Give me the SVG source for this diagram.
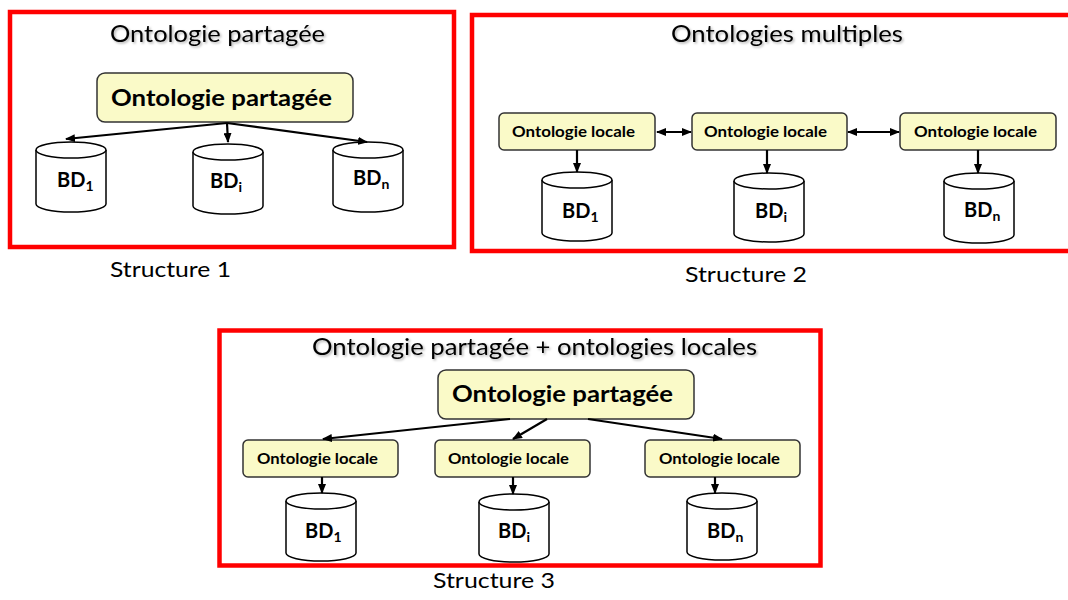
<svg xmlns="http://www.w3.org/2000/svg" width="1068" height="600" viewBox="0 0 1068 600">
<defs>
<marker id="ah" markerWidth="10" markerHeight="8" refX="9" refY="4" orient="auto-start-reverse" markerUnits="userSpaceOnUse"><path d="M0,0 L10,4 L0,8 z" fill="#000"/></marker>
<filter id="sh" x="-5%" y="-30%" width="110%" height="160%"><feDropShadow dx="1.5" dy="1.5" stdDeviation="1" flood-color="#000" flood-opacity="0.3"/></filter>
</defs>
<style>
text{font-family:Lato,"Liberation Sans",sans-serif;fill:#000}
.frame{fill:none;stroke:#ff0000;stroke-width:4.5}
.title{font-size:23px;filter:url(#sh)}
.label{font-size:21px}
.shared{fill:#fafac8;stroke:#333;stroke-width:1.5}
.big{font-size:23px;font-weight:bold}
.loc{font-size:15px;font-weight:bold}
.cyl{fill:#fff;stroke:#000;stroke-width:1.5}
.bd{font-size:20px;font-weight:bold}
.sub{font-size:14px}
.con{stroke:#000;stroke-width:2.2;fill:none}
</style>
<rect x="0" y="0" width="1068" height="600" fill="#fff"/>

<g id="structure1">
<rect class="frame" x="10" y="12" width="444" height="235"/>
<text class="title" x="110" y="42" textLength="215" lengthAdjust="spacingAndGlyphs">Ontologie partagée</text>
<text class="label" x="110" y="277" textLength="121" lengthAdjust="spacingAndGlyphs">Structure 1</text>
</g>
<g id="s1-shared">
<rect class="shared" x="97" y="73" width="256" height="49" rx="8"/>
<text class="big" x="111" y="106" textLength="221" lengthAdjust="spacingAndGlyphs">Ontologie partagée</text>
</g>
<g id="s1-bd1">
<path class="cyl" d="M36,150 V204 A35,8 0 0 0 106,204 V150"/><ellipse class="cyl" cx="71" cy="150" rx="35" ry="8"/>
<text class="bd" x="57" y="187">BD<tspan class="sub" dy="4">1</tspan></text>
</g>
<g id="s1-bdi">
<path class="cyl" d="M193,152 V206 A35,8 0 0 0 263,206 V152"/><ellipse class="cyl" cx="228" cy="152" rx="35" ry="8"/>
<text class="bd" x="210" y="188">BD<tspan class="sub" dy="4">i</tspan></text>
</g>
<g id="s1-bdn">
<path class="cyl" d="M333,150 V204 A35,8 0 0 0 403,204 V150"/><ellipse class="cyl" cx="368" cy="150" rx="35" ry="8"/>
<text class="bd" x="353" y="185">BD<tspan class="sub" dy="4">n</tspan></text>
</g>

<g id="structure2">
<rect class="frame" x="472" y="15" width="620" height="236"/>
<text class="title" x="671" y="42" textLength="232" lengthAdjust="spacingAndGlyphs">Ontologies multiples</text>
<text class="label" x="685" y="282" textLength="122" lengthAdjust="spacingAndGlyphs">Structure 2</text>
</g>
<g id="s2-loc1">
<rect class="shared" x="499" y="113" width="156" height="37" rx="5"/>
<text class="loc" x="512" y="137" textLength="123" lengthAdjust="spacingAndGlyphs">Ontologie locale</text>
</g>
<g id="s2-loc2">
<rect class="shared" x="692" y="113" width="155" height="37" rx="5"/>
<text class="loc" x="704" y="137" textLength="123" lengthAdjust="spacingAndGlyphs">Ontologie locale</text>
</g>
<g id="s2-loc3">
<rect class="shared" x="900" y="113" width="156" height="37" rx="5"/>
<text class="loc" x="914" y="137" textLength="123" lengthAdjust="spacingAndGlyphs">Ontologie locale</text>
</g>
<g id="s2-bd1">
<path class="cyl" d="M542,180 V233 A35,8 0 0 0 612,233 V180"/><ellipse class="cyl" cx="577" cy="180" rx="35" ry="8"/>
<text class="bd" x="562" y="218">BD<tspan class="sub" dy="4">1</tspan></text>
</g>
<g id="s2-bdi">
<path class="cyl" d="M734,181 V234 A35,8 0 0 0 804,234 V181"/><ellipse class="cyl" cx="769" cy="181" rx="35" ry="8"/>
<text class="bd" x="755" y="218">BD<tspan class="sub" dy="4">i</tspan></text>
</g>
<g id="s2-bdn">
<path class="cyl" d="M944,181 V235 A35,8 0 0 0 1014,235 V181"/><ellipse class="cyl" cx="979" cy="181" rx="35" ry="8"/>
<text class="bd" x="964" y="217">BD<tspan class="sub" dy="4">n</tspan></text>
</g>

<g id="structure3">
<rect class="frame" x="219.5" y="330.5" width="601" height="235"/>
<text class="title" x="312" y="355" textLength="445" lengthAdjust="spacingAndGlyphs">Ontologie partagée + ontologies locales</text>
<text class="label" x="433" y="588" textLength="122" lengthAdjust="spacingAndGlyphs">Structure 3</text>
</g>
<g id="s3-shared">
<rect class="shared" x="438" y="370" width="256" height="49" rx="8"/>
<text class="big" x="452" y="402" textLength="221" lengthAdjust="spacingAndGlyphs">Ontologie partagée</text>
</g>
<g id="s3-loc1">
<rect class="shared" x="243" y="440" width="155" height="37" rx="5"/>
<text class="loc" x="257" y="464" textLength="121" lengthAdjust="spacingAndGlyphs">Ontologie locale</text>
</g>
<g id="s3-loc2">
<rect class="shared" x="435" y="440" width="155" height="37" rx="5"/>
<text class="loc" x="448" y="464" textLength="121" lengthAdjust="spacingAndGlyphs">Ontologie locale</text>
</g>
<g id="s3-loc3">
<rect class="shared" x="645" y="440" width="155" height="37" rx="5"/>
<text class="loc" x="659" y="464" textLength="121" lengthAdjust="spacingAndGlyphs">Ontologie locale</text>
</g>
<g id="s3-bd1">
<path class="cyl" d="M286,501 V553 A35,8 0 0 0 356,553 V501"/><ellipse class="cyl" cx="321" cy="501" rx="35" ry="8"/>
<text class="bd" x="305" y="538">BD<tspan class="sub" dy="4">1</tspan></text>
</g>
<g id="s3-bdi">
<path class="cyl" d="M479,502 V554 A35,8 0 0 0 549,554 V502"/><ellipse class="cyl" cx="514" cy="502" rx="35" ry="8"/>
<text class="bd" x="498" y="538">BD<tspan class="sub" dy="4">i</tspan></text>
</g>
<g id="s3-bdn">
<path class="cyl" d="M687,501 V552 A35,8 0 0 0 757,552 V501"/><ellipse class="cyl" cx="722" cy="501" rx="35" ry="8"/>
<text class="bd" x="707" y="538">BD<tspan class="sub" dy="4">n</tspan></text>
</g>

<g id="connectors">
<line class="con" x1="227" y1="123" x2="66" y2="139" marker-end="url(#ah)"/>
<line class="con" x1="227" y1="123" x2="228" y2="142" marker-end="url(#ah)"/>
<line class="con" x1="227" y1="123" x2="367" y2="142" marker-end="url(#ah)"/>

<line class="con" x1="657" y1="132" x2="691" y2="132" marker-start="url(#ah)" marker-end="url(#ah)"/>
<line class="con" x1="848" y1="132" x2="899" y2="132" marker-start="url(#ah)" marker-end="url(#ah)"/>
<line class="con" x1="577" y1="150" x2="577" y2="172" marker-end="url(#ah)"/>
<line class="con" x1="767" y1="150" x2="767" y2="173" marker-end="url(#ah)"/>
<line class="con" x1="978" y1="150" x2="978" y2="173" marker-end="url(#ah)"/>

<line class="con" x1="510" y1="419" x2="323" y2="439" marker-end="url(#ah)"/>
<line class="con" x1="547" y1="419" x2="513" y2="439" marker-end="url(#ah)"/>
<line class="con" x1="588" y1="419" x2="722" y2="439" marker-end="url(#ah)"/>
<line class="con" x1="322" y1="477" x2="322" y2="493" marker-end="url(#ah)"/>
<line class="con" x1="513" y1="477" x2="513" y2="494" marker-end="url(#ah)"/>
<line class="con" x1="715" y1="477" x2="715" y2="493" marker-end="url(#ah)"/>
</g>
</svg>
